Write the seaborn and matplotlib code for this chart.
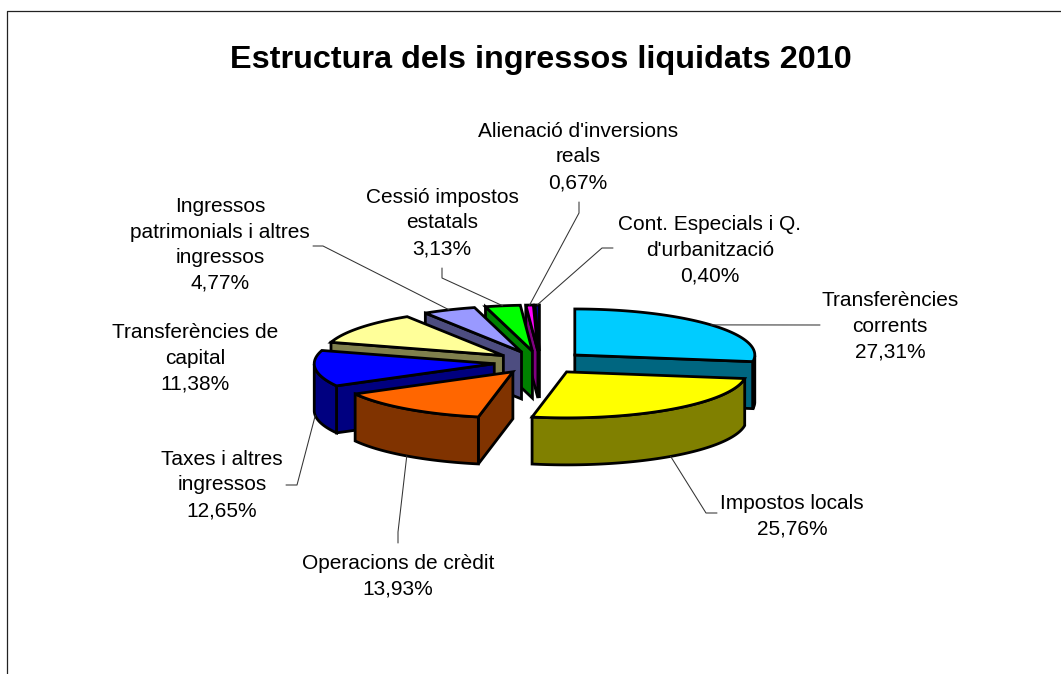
import numpy as np
import matplotlib
matplotlib.use("Agg")
import matplotlib.pyplot as plt
import seaborn as sns

# dades
labels = ["Transferències\ncorrents", "Impostos locals", "Operacions de crèdit",
          "Taxes i altres\ningressos", "Transferències de\ncapital",
          "Ingressos\npatrimonials i altres\ningressos", "Cessió impostos\nestatals",
          "Alienació d'inversions\nreals", "Cont. Especials i Q.\nd'urbanització"]
values = [27.31, 25.76, 13.93, 12.65, 11.38, 4.77, 3.13, 0.67, 0.40]
top_colors = ["#00CCFF", "#FFFF00", "#FF6600", "#0000FF", "#FFFF99", "#9999FF", "#00FF00", "#FF00FF", "#000080"]
wall_colors = ["#006680", "#808000", "#803300", "#000080", "#80804D", "#4D4D80", "#008000", "#800080", "#000040"]

# posicions de les etiquetes (px)
label_pos = [(890, 326), (792, 516), (398, 576), (222, 485), (195, 358), (220, 245), (442, 223), (578, 157), (710, 250)]
# colzes de les linies guia (px), None = sense guia
leader_ends = [[(820, 325)], [(706, 513), (717, 513)], [(398, 532), (398, 543)], [(297, 485), (286, 485)], None,
               [(323, 246), (313, 246)], [(442, 278), (442, 268)], [(579, 213), (579, 202)], [(602, 248), (613, 248)]]
leader_on_wall = [False, True, True, True, False, False, False, False, False]

CX, CY = 540, 362.5
RX, RY = 180, 46
EX, EY = 46, 11.5
DEPTH = 47
EDGE = 2.0

sns.set_style("white")
plt.rcParams["font.family"] = ["Liberation Sans", "DejaVu Sans"]

fig = plt.figure(figsize=(10.61, 6.74), dpi=100)
ax = fig.add_axes([0, 0, 1, 1])
ax.set_xlim(0, 1061)
ax.set_ylim(674, 0)
ax.axis("off")

# marc del grafic, retallat a dalt a la dreta
ax.plot([7, 7, 1061], [674, 11, 11], color="#222222", lw=0.9, zorder=1)

edges = np.cumsum([0] + values) / sum(values) * 2 * np.pi


def rim(apex, theta):
    return apex[0] + RX * np.sin(theta), apex[1] - RY * np.cos(theta)


def draw_slice(i):
    a0, a1 = edges[i], edges[i + 1]
    mid = (a0 + a1) / 2
    apex = (CX + EX * np.sin(mid), CY - EY * np.cos(mid))
    ts = np.linspace(a0, a1, 80)
    xs, ys = rim(apex, ts)
    # parets visibles: nomes els trams que van cap a l'esquerra
    if np.sin(a0) < 0:
        px = [apex[0], xs[0], xs[0], apex[0]]
        py = [apex[1], ys[0], ys[0] + DEPTH, apex[1] + DEPTH]
        ax.fill(px, py, facecolor=wall_colors[i], edgecolor="black", lw=EDGE, joinstyle="miter")
    if np.sin(a1) > 0:
        px = [apex[0], xs[-1], xs[-1], apex[0]]
        py = [apex[1], ys[-1], ys[-1] + DEPTH, apex[1] + DEPTH]
        ax.fill(px, py, facecolor=wall_colors[i], edgecolor="black", lw=EDGE, joinstyle="miter")
    front = (ts >= np.pi / 2) & (ts <= 3 * np.pi / 2)
    if front.sum() > 1:
        fx, fy = xs[front], ys[front]
        ax.fill(np.r_[fx, fx[::-1]], np.r_[fy, fy[::-1] + DEPTH],
                facecolor=wall_colors[i], edgecolor="black", lw=EDGE, joinstyle="miter")
    ax.fill(np.r_[apex[0], xs], np.r_[apex[1], ys], facecolor=top_colors[i],
            edgecolor="black", lw=EDGE, joinstyle="miter")


for i in [8, 7, 6, 5, 4, 3, 2, 0, 1]:
    draw_slice(i)

# linies guia, surten del punt mig de cada arc
for i, ends in enumerate(leader_ends):
    if ends is None:
        continue
    mid = (edges[i] + edges[i + 1]) / 2
    apex = (CX + EX * np.sin(mid), CY - EY * np.cos(mid))
    sx, sy = rim(apex, mid)
    if leader_on_wall[i]:
        sy += DEPTH
    ax.plot([sx] + [p[0] for p in ends], [sy] + [p[1] for p in ends], color="#333333", lw=0.75, zorder=10)

for lab, val, pos in zip(labels, values, label_pos):
    txt = lab + "\n" + f"{val:.2f}%".replace(".", ",")
    ax.text(pos[0], pos[1], txt, ha="center", va="center", fontsize=15, linespacing=1.44, color="black", zorder=11)

ax.text(541, 60, "Estructura dels ingressos liquidats 2010", ha="center", va="center",
        fontsize=23.3, fontweight="bold", color="black")

fig.savefig("out.png", dpi=100)
